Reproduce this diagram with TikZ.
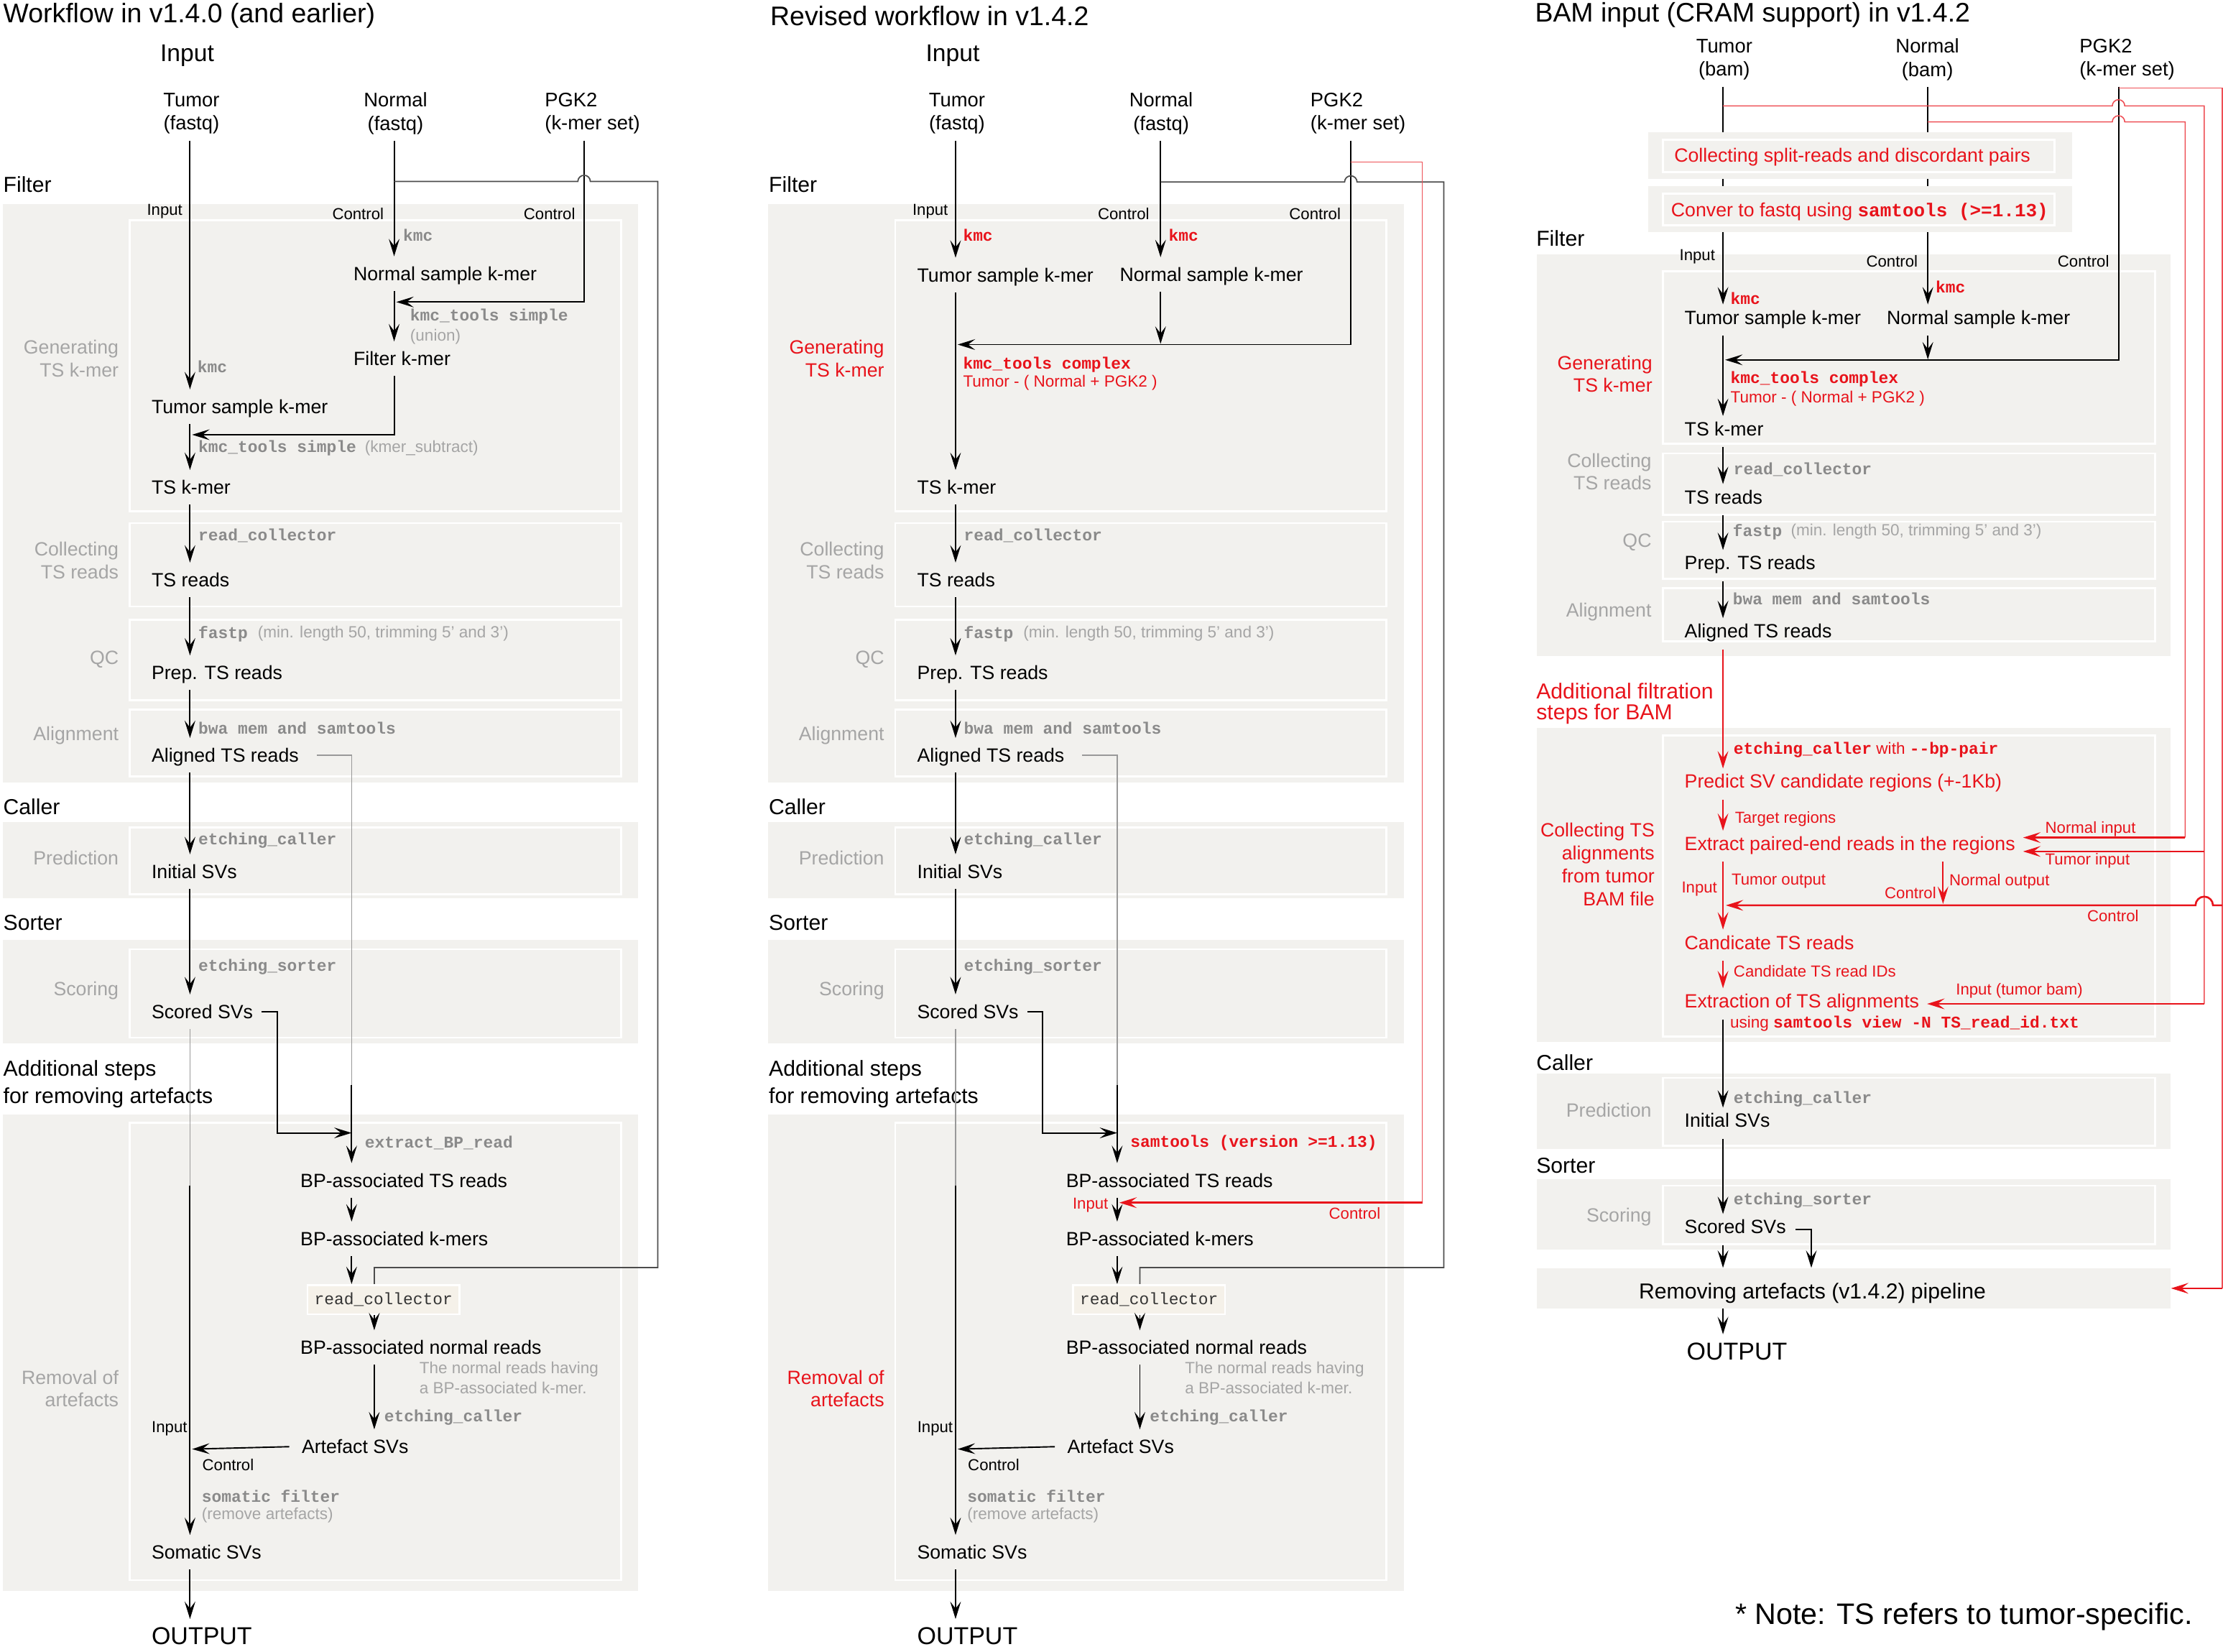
\documentclass[tikz,border=0pt]{standalone}
\usepackage{fontspec}
\setmainfont{Liberation Sans}
\setmonofont{Liberation Mono}
\usetikzlibrary{arrows.meta}
\definecolor{boxgray}{HTML}{F2F1EE}
\definecolor{rcfill}{HTML}{F5F1E9}
\definecolor{stepgray}{HTML}{A5A5A5}
\definecolor{codegray}{HTML}{8A8A8A}
\definecolor{hired}{HTML}{E8131B}
\newcommand{\codetxt}[1]{{\fontsize{6.6}{8}\selectfont\ttfamily\bfseries #1}}
\tikzset{
  outbox/.style={fill=boxgray},
  inbox/.style={fill=boxgray, draw=white, line width=0.8pt},
  main/.style={anchor=west, inner xsep=0pt, inner ysep=4pt, text height=5.5pt, text depth=0pt, font=\fontsize{7.7}{9.1}\selectfont},
  main3/.style={main, inner ysep=2.2pt, text depth=2.2pt},
  big/.style={main, inner ysep=3pt, text height=7pt, font=\fontsize{9.8}{11}\selectfont},
  title/.style={anchor=west, inner sep=0pt, font=\fontsize{10.8}{13}\selectfont},
  head/.style={inner sep=0pt, font=\fontsize{9.7}{11}\selectfont},
  src/.style={inner sep=2.5pt, align=center, font=\fontsize{7.9}{9.3}\selectfont},
  sec/.style={anchor=west, inner sep=0pt, align=left, font=\fontsize{8.7}{10.8}\selectfont},
  steplbl/.style={anchor=east, inner sep=0pt, align=right, text=stepgray, font=\fontsize{7.7}{9.1}\selectfont},
  code/.style={anchor=west, inner sep=0pt, text=codegray, font=\fontsize{6.6}{8}\selectfont\ttfamily\bfseries},
  rcode/.style={code, text=hired},
  note/.style={anchor=west, inner sep=0pt, align=left, text=stepgray, font=\fontsize{6.5}{7.9}\selectfont},
  rnote/.style={note, text=hired},
  tag/.style={inner sep=0pt, font=\fontsize{6.4}{7.7}\selectfont},
  rtag/.style={tag, anchor=west, text=hired},
  rcbox/.style={fill=rcfill, draw=white, line width=0.8pt, inner sep=0pt, minimum width=61pt, minimum height=11.7pt, font=\fontsize{6.6}{8}\selectfont\ttfamily, text=black!80},
  arr/.style={-{Stealth[length=7pt,width=4.3pt,inset=2.8pt]}, line width=0.55pt},
  rarr/.style={arr, draw=hired},
  faint/.style={line width=0.4pt, draw=black!40},
  backline/.style={line width=0.5pt, draw=black!70},
  rline/.style={line width=0.45pt, draw=hired!75},
}
\begin{document}
\begin{tikzpicture}[x=0.02cm, y=-0.02cm]
\useasboundingbox (0,0) rectangle (1568,1165);

% shared part of the two fastq workflows
\foreach \p/\dx/\rc/\tc/\tool in {a/0/stepgray/codegray/{extract\_BP\_read},b/540/hired/hired/{samtools (version >=1.13)}}{
\begin{scope}[shift={(\dx,0)}]
  \fill[outbox] (2,143.8) rectangle (450,552.1);
  \filldraw[inbox] (91.4,155.4) rectangle (438,360.5);
  \filldraw[inbox] (91.4,369) rectangle (438,427.7);
  \filldraw[inbox] (91.4,437) rectangle (438,494);
  \filldraw[inbox] (91.4,500.4) rectangle (438,547.5);
  \fill[outbox] (2,579.8) rectangle (450,633.3);
  \filldraw[inbox] (91.4,583.7) rectangle (438,630.7);
  \fill[outbox] (2,663) rectangle (450,736);
  \filldraw[inbox] (91.4,669.5) rectangle (438,731.8);
  \fill[outbox] (2,786) rectangle (450,1122);
  \filldraw[inbox] (91.4,791.8) rectangle (438,1114.4);
  \node[sec] (fil\p) at (2,130) {Filter};
  \node[sec] (cal\p) at (2,569) {Caller};
  \node[sec] (sor\p) at (2,651) {Sorter};
  \node[sec] (add\p) at (2,764.5) {Additional steps\\for removing artefacts};
  \node[steplbl, text=\rc] (gen\p) at (84,253) {Generating\\TS k-mer};
  \node[steplbl] (col\p) at (84,395.3) {Collecting\\TS reads};
  \node[steplbl] (qc\p) at (84,465) {QC};
  \node[steplbl] (ali\p) at (84,518.5) {Alignment};
  \node[steplbl] (pre\p) at (84,605) {Prediction};
  \node[steplbl] (sco\p) at (84,698.8) {Scoring};
  \node[steplbl, text=\rc] (rem\p) at (84,979.3) {Removal of\\artefacts};
  \coordinate (sp\p) at (134,0);
  \coordinate (bx\p) at (248,0);
  \coordinate (rx\p) at (264,0);
  \coordinate (al\p) at (248,765);
  \coordinate (hk\p) at (195.4,799);
  \coordinate (bh\p) at (248,799);
  \coordinate (sm\p) at (134,836);
  \coordinate (jc\p) at (135.5,1022);
  \node[main] (tsk\p) at (106.6,343.7) {TS k-mer};
  \node[code] (c1\p) at (139.6,378) {read\_collector};
  \node[main] (tsr\p) at (106.6,409) {TS reads};
  \node[code] (c2\p) at (139.6,447) {fastp};
  \node[note] (n2\p) at (181.5,447) {(min. length 50, trimming 5' and 3')};
  \node[main] (prp\p) at (106.6,474.5) {Prep. TS reads};
  \node[code] (c3\p) at (139.6,513.6) {bwa mem and samtools};
  \node[main] (aln\p) at (106.6,532.7) {Aligned TS reads};
  \node[code] (c4\p) at (139.6,593) {etching\_caller};
  \node[main] (ini\p) at (106.6,614.7) {Initial SVs};
  \node[code] (c5\p) at (139.6,682) {etching\_sorter};
  \node[main] (scr\p) at (106.6,713.5) {Scored SVs};
  \node[code, text=\tc] (c6\p) at (257,806) {\tool};
  \node[main] (bpt\p) at (211.6,832.5) {BP-associated TS reads};
  \node[main] (bpk\p) at (211.6,873.8) {BP-associated k-mers};
  \node[rcbox] (rc\p) at (270.5,916.6) {read\_collector};
  \node[main] (bpn\p) at (211.6,950.4) {BP-associated normal reads};
  \node[note] (n6\p) at (295.5,971.7) {The normal reads having\\a BP-associated k-mer.};
  \node[code] (c7\p) at (270.7,999.6) {etching\_caller};
  \node[main] (art\p) at (212.5,1020.3) {Artefact SVs};
  \node[tag, anchor=east] (ti\p) at (132.4,1007.4) {Input};
  \node[tag, anchor=west] (tc\p) at (142.4,1033) {Control};
  \node[code] (c8\p) at (142,1055) {somatic filter};
  \node[note] (n8\p) at (142,1068.5) {(remove artefacts)};
  \node[main] (som\p) at (106.6,1094.8) {Somatic SVs};
  \node[big] (out\p) at (106.6,1153.6) {OUTPUT};
  \draw[arr] (tsk\p.south -| sp\p) -- (tsr\p.north -| sp\p);
  \draw[arr] (tsr\p.south -| sp\p) -- (prp\p.north -| sp\p);
  \draw[arr] (prp\p.south -| sp\p) -- (aln\p.north -| sp\p);
  \draw[arr] (aln\p.south -| sp\p) -- (ini\p.north -| sp\p);
  \draw[arr] (ini\p.south -| sp\p) -- (scr\p.north -| sp\p);
  \draw[faint] (scr\p.south -| sp\p) -- (sm\p);
  \draw[arr] (sm\p) -- (som\p.north -| sp\p);
  \draw[arr] (som\p.south -| sp\p) -- (out\p.north -| sp\p);
  \draw[faint] ([xshift=7pt]aln\p.east) -| (al\p);
  \draw[arr] (al\p) -- (bpt\p.north -| bx\p);
  \draw[arr] ([xshift=3.4pt]scr\p.east) -| (hk\p) -- (bh\p);
  \draw[arr] (bpt\p.south -| bx\p) -- (bpk\p.north -| bx\p);
  \draw[arr] (bpk\p.south -| bx\p) -- (rc\p.north -| bx\p);
  \draw[arr] (rc\p.south -| rx\p) -- (bpn\p.north -| rx\p);
  \draw[arr] (bpn\p.south -| rx\p) -- (art\p.north -| rx\p);
  \draw[arr] ([xshift=-4.8pt]art\p.west) -- (jc\p);
\end{scope}
}

% workflow v1.4.0
\node[title] (t1) at (2,11) {Workflow in v1.4.0 (and earlier)};
\node[head] (h1) at (132,39) {Input};
\node[src] (tum1) at (135,80) {Tumor\\(fastq)};
\node[src] (nor1) at (279,80) {Normal\\(fastq)};
\node[src, anchor=west, align=left] (pgk1) at (379.6,80) {PGK2\\(k-mer set)};
\coordinate (np1) at (278,0);
\coordinate (pp1) at (412,0);
\coordinate (j1) at (279.5,213);
\coordinate (j2) at (135.5,306.6);
\coordinate (g1) at (278,128);
\node[tag, anchor=east] (ti1) at (129,149) {Input};
\node[tag, anchor=east] (tc1) at (271,151) {Control};
\node[tag, anchor=east] (tc2) at (406,151) {Control};
\node[code] (k1) at (284,166) {kmc};
\node[main] (nsk1) at (249,193) {Normal sample k-mer};
\node[code] (k2) at (289,223.5) {kmc\_tools simple};
\node[note] (u1) at (289,237.5) {(union)};
\node[main] (fk1) at (249,253) {Filter k-mer};
\node[code] (k3) at (139,258.6) {kmc};
\node[main] (tsm1) at (106.6,286.8) {Tumor sample k-mer};
\node[code] (k4) at (139.6,316) {kmc\_tools simple};
\node[note] (u2) at (257,316) {(kmer\_subtract)};
\draw[arr] (tum1.south -| spa) -- (tsm1.north -| spa);
\draw[arr] (nor1.south -| np1) -- (nsk1.north -| np1);
\draw[arr] (nsk1.south -| np1) -- (fk1.north -| np1);
\draw[arr] (pgk1.south -| pp1) |- (j1);
\draw[arr] (fk1.south -| np1) |- (j2);
\draw[arr] (tsm1.south -| spa) -- (tska.north -| spa);
\draw[backline] (g1) -- (407.6,128) arc(180:0:2.5pt) -- (464,128) -- (464,894) -| (rca.north -| rxa);

% revised workflow v1.4.2
\node[title] (t2) at (543,11) {Revised workflow in v1.4.2};
\node[head] (h2) at (672,39) {Input};
\node[src] (tum2) at (675,80) {Tumor\\(fastq)};
\node[src] (nor2) at (819,80) {Normal\\(fastq)};
\node[src, anchor=west, align=left] (pgk2) at (919.6,80) {PGK2\\(k-mer set)};
\coordinate (np2) at (818.6,0);
\coordinate (pp2) at (952.8,0);
\coordinate (j3) at (818.6,242.5);
\coordinate (j4) at (675.5,243);
\coordinate (g2) at (818.6,128.4);
\coordinate (r2) at (952.8,114.2);
\coordinate (rc2) at (1003.2,848.2);
\coordinate (rt2) at (789.5,848.2);
\node[tag, anchor=east] (ti2) at (669,149) {Input};
\node[tag, anchor=east] (tc3) at (811,151) {Control};
\node[tag, anchor=east] (tc4) at (946,151) {Control};
\node[rcode] (k5) at (679,165.8) {kmc};
\node[rcode] (k6) at (824,166) {kmc};
\node[main] (tsm2) at (646.6,194) {Tumor sample k-mer};
\node[main] (nsk2) at (789.5,193.6) {Normal sample k-mer};
\node[rcode] (k7) at (679,257) {kmc\_tools complex};
\node[rnote] (u3) at (679,269.8) {Tumor - ( Normal + PGK2 )};
\draw[arr] (tum2.south -| spb) -- (tsm2.north -| spb);
\draw[arr] (nor2.south -| np2) -- (nsk2.north -| np2);
\draw[arr] (nsk2.south -| np2) -- (j3);
\draw[arr] (pgk2.south -| pp2) |- (j4);
\draw[arr] (tsm2.south -| spb) -- (tskb.north -| spb);
\draw[backline] (g2) -- (948.4,128.4) arc(180:0:2.5pt) -- (1018.4,128.4) -- (1018.4,894) -| (rcb.north -| rxb);
\draw[rline] (r2) -| (rc2);
\draw[rarr, line width=0.75pt] (rc2) -- (rt2);
\node[rtag, anchor=east] (ri2) at (782,850.2) {Input};
\node[rtag, anchor=east] (rk2) at (974,855.7) {Control};

% BAM input workflow
\node[title] (t3) at (1082.4,10.5) {BAM input (CRAM support) in v1.4.2};
\node[src] (tum3) at (1216.2,42) {Tumor\\(bam)};
\node[src] (nor3) at (1359.5,42) {Normal\\(bam)};
\node[src, anchor=west, align=left] (pgk3) at (1462.1,42) {PGK2\\(k-mer set)};
\coordinate (sp3) at (1215.3,0);
\coordinate (np3) at (1359.8,0);
\coordinate (pp3) at (1494.3,0);
\coordinate (nx3) at (1370.5,0);
\coordinate (hx3) at (1277.6,0);
\coordinate (j5) at (1359.8,253.5);
\coordinate (j6) at (1216.8,253.8);
\fill[outbox] (1084,179.6) rectangle (1531,462.9);
\filldraw[inbox] (1173,191.2) rectangle (1520,313);
\filldraw[inbox] (1173,319.8) rectangle (1520,363.2);
\filldraw[inbox] (1173,367.9) rectangle (1520,408.3);
\filldraw[inbox] (1173,414.7) rectangle (1520,452.2);
\fill[outbox] (1084,513.5) rectangle (1531,734.8);
\filldraw[inbox] (1173,518.6) rectangle (1520,731.1);
\fill[outbox] (1084,756.9) rectangle (1531,810.6);
\filldraw[inbox] (1173,760.2) rectangle (1520,807.9);
\fill[outbox] (1084,831.5) rectangle (1531,881.5);
\filldraw[inbox] (1173,836.2) rectangle (1520,877.6);
\node[fill=boxgray, inner sep=0pt, minimum width=8.94cm, minimum height=0.564cm] (remb) at (1307.5,908.6) {};
\node[sec] (fil3) at (1083.3,168) {Filter};
\node[sec, text=hired, font=\fontsize{8.7}{8.4}\selectfont] (add3) at (1083.3,496.2) {Additional filtration\\steps for BAM};
\node[sec] (cal3) at (1083.3,749.3) {Caller};
\node[sec] (sor3) at (1083.3,821.9) {Sorter};
\node[steplbl, text=hired] (gen3) at (1165.8,263.8) {Generating\\TS k-mer};
\node[steplbl, font=\fontsize{7.7}{8.8}\selectfont] (col3) at (1165.2,332.6) {Collecting\\TS reads};
\node[steplbl] (qc3) at (1165.2,382.6) {QC};
\node[steplbl] (ali3) at (1165.2,431.6) {Alignment};
\node[steplbl, text=hired, font=\fontsize{7.7}{9.2}\selectfont] (cta3) at (1167.4,609.5) {Collecting TS\\alignments\\from tumor\\BAM file};
\node[steplbl] (pre3) at (1165.2,783) {Prediction};
\node[steplbl] (sco3) at (1165.2,858.2) {Scoring};
% main steps
\node[tag, anchor=east] (ti3) at (1210,181) {Input};
\node[tag, anchor=east] (tc5) at (1353,184.3) {Control};
\node[tag, anchor=east] (tc6) at (1488,184.3) {Control};
\node[rcode] (k8) at (1220.3,210.7) {kmc};
\node[rcode] (k9) at (1365,202.3) {kmc};
\node[main3] (tsm3) at (1187.9,225.7) {Tumor sample k-mer};
\node[main3] (nsk3) at (1330.5,225.7) {Normal sample k-mer};
\node[rcode] (k10) at (1220.3,267.3) {kmc\_tools complex};
\node[rnote] (u4) at (1220.3,281.1) {Tumor - ( Normal + PGK2 )};
\node[main3] (tsk3) at (1187.9,304.4) {TS k-mer};
\node[code] (k11) at (1222.5,331.1) {read\_collector};
\node[main3] (tsr3) at (1187.9,352.4) {TS reads};
\node[code] (k12) at (1221.9,375) {fastp};
\node[note] (u5) at (1262.8,375) {(min. length 50, trimming 5' and 3')};
\node[main3] (prp3) at (1187.9,398.9) {Prep. TS reads};
\node[code] (k13) at (1221.9,422.3) {bwa mem and samtools};
\node[main3] (aln3) at (1187.9,447) {Aligned TS reads};
\node[rnote] (ecb) at (1222.5,528.8) {\codetxt{etching\_caller} with \codetxt{-{}-bp-pair}};
\node[main3, text=hired] (psv) at (1187.9,553) {Predict SV candidate regions (+-1Kb)};
\node[rtag] (trg) at (1223.4,577.7) {Target regions};
\node[main3, text=hired] (epe) at (1187.9,596.9) {Extract paired-end reads in the regions};
\node[rtag] (nin) at (1442.3,584.5) {Normal input};
\node[rtag] (tin) at (1442.3,606.8) {Tumor input};
\node[rtag, anchor=east] (ti4) at (1211.5,627) {Input};
\node[rtag] (tou) at (1221,621.6) {Tumor output};
\node[rtag, anchor=east] (tc7) at (1366,629.8) {Control};
\node[rtag] (nou) at (1374.6,621.6) {Normal output};
\node[rtag] (tc8) at (1471.9,646) {Control};
\node[main3, text=hired] (cts) at (1187.9,666.6) {Candicate TS reads};
\node[rtag] (cid) at (1222.5,685) {Candidate TS read IDs};
\node[main3, text=hired] (eta) at (1187.9,708) {Extraction of TS alignments};
\node[rtag] (itb) at (1379.3,698.5) {Input (tumor bam)};
\node[rnote] (usv) at (1220,722.1) {using \codetxt{samtools view -N TS\_read\_id.txt}};
\node[code] (k14) at (1222.5,775.4) {etching\_caller};
\node[main3] (ini3) at (1187.9,792.2) {Initial SVs};
\node[code] (k15) at (1222.5,846.7) {etching\_sorter};
\node[main3] (scr3) at (1187.9,867.2) {Scored SVs};
\node[main, font=\fontsize{8.7}{10}\selectfont] (rmt) at (1155.7,911.4) {Removing artefacts (v1.4.2) pipeline};
\node[big] (out3) at (1189.4,952.8) {OUTPUT};
% input arrows, then the two BAM boxes over them
\draw[arr] (tum3.south -| sp3) -- (tsm3.north -| sp3);
\draw[arr] (nor3.south -| np3) -- (nsk3.north -| np3);
\fill[outbox] (1162.7,93.5) rectangle (1461.8,126);
\filldraw[inbox] (1173,98.7) rectangle (1449.2,121.2);
\node[main, text=hired] (csr) at (1180.6,109.3) {Collecting split-reads and discordant pairs};
\fill[outbox] (1162.7,131.3) rectangle (1461.8,163.9);
\filldraw[inbox] (1173,136.6) rectangle (1449.2,159);
\node[main, text=hired] (cfq) at (1178.4,148.1) {Conver to fastq using {\fontsize{7.5}{9}\selectfont\ttfamily\bfseries samtools (>=1.13)}};
\draw[arr] (nsk3.south -| np3) -- (j5);
\draw[arr] (pgk3.south -| pp3) |- (j6);
\draw[arr] (tsm3.south -| sp3) -- (tsk3.north -| sp3);
\draw[arr] (tsk3.south -| sp3) -- (tsr3.north -| sp3);
\draw[arr] (tsr3.south -| sp3) -- (prp3.north -| sp3);
\draw[arr] (prp3.south -| sp3) -- (aln3.north -| sp3);
\draw[rarr] (aln3.south -| sp3) -- (psv.north -| sp3);
\draw[rarr] (psv.south -| sp3) -- (epe.north -| sp3);
\draw[rarr] (epe.south -| sp3) -- (cts.north -| sp3);
\draw[rarr] (cts.south -| sp3) -- (eta.north -| sp3);
\draw[arr] (eta.south -| sp3) -- (ini3.north -| sp3);
\draw[arr] (ini3.south -| sp3) -- (scr3.north -| sp3);
\draw[arr] (scr3.south -| sp3) -- (remb.north -| sp3);
\draw[arr] ([xshift=3.6pt]scr3.east) -| (remb.north -| hx3);
\draw[arr] (remb.south -| sp3) -- (out3.north -| sp3);
% red routes from the inputs
\coordinate (rt3) at (1215.3,74.7);
\coordinate (rn3) at (1359.8,86);
\coordinate (rp3) at (1494.3,62);
\coordinate (xt3) at (1554.7,0);
\coordinate (xp3) at (1567.5,0);
\coordinate (ee3) at ([xshift=3pt]epe.east);
\coordinate (ea3) at ([xshift=3pt]eta.east);
\coordinate (ni4) at (1541.3,590.7);
\coordinate (tu4) at (1554.7,600.5);
\coordinate (ci4) at (1567.5,638.5);
\coordinate (cj4) at (1217.3,638.5);
\coordinate (cj5) at (1370.5,637.5);
\draw[rline] (rt3) -- (1489.9,74.7) arc(180:0:2.5pt) -| (xt3 |- ea3);
\draw[rline] (rn3) -- (1489.9,86) arc(180:0:2.5pt) -| (ni4);
\draw[rline] (rp3) -| (xp3 |- remb.east);
\draw[rarr, line width=0.75pt] (ni4) -- (ee3 |- ni4);
\draw[rarr, line width=0.75pt] (tu4) -- (ee3 |- tu4);
\draw[rarr, line width=0.75pt] (xt3 |- ea3) -- (ea3);
\draw[rarr, line width=0.75pt] (ci4) -- (1560.9,638.5) arc(0:180:3.5pt) -- (cj4);
\draw[rarr, line width=0.75pt] (xp3 |- remb.east) -- (remb.east);
\draw[rarr] (epe.south -| nx3) -- (cj5);

\node[anchor=east, inner sep=0pt, font=\fontsize{11.9}{14}\selectfont] (nt) at (1547,1140) {* Note: TS refers to tumor-specific.};
\end{tikzpicture}
\end{document}
